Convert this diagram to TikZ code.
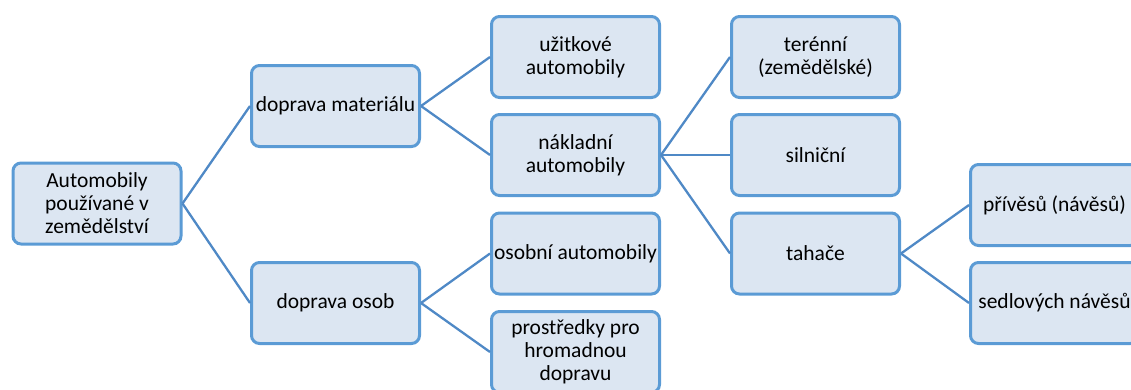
\documentclass[tikz,border=0pt]{standalone}
\usepackage{fontspec}
\setmainfont{Carlito}
\usepackage{xcolor}

\definecolor{boxfill}{HTML}{DCE6F2}
\definecolor{boxline}{HTML}{5B9BD5}
\definecolor{linkline}{HTML}{4F89C6}

\tikzset{
  box/.style={draw=boxline, line width=3pt, fill=boxfill, rounded corners=8pt,
    minimum width=168pt, minimum height=81pt, inner sep=2pt, align=center,
    font=\fontsize{21.5}{23}\selectfont},
  link/.style={draw=linkline, line width=2.3pt}
}

\begin{document}
\begin{tikzpicture}[x=1pt,y=-1pt]
    \useasboundingbox (0,0) rectangle (1131,389);
    \clip (0,0) rectangle (1131,389);

    \node[box] (auto) at (97,203.5) {Automobily\\používané v\\zemědělství};

    \node[box] (mat) at (335.5,106) {doprava materiálu};
    \node[box] (osob) at (335.5,303) {doprava osob};

    \node[box] (uzit) at (575.5,57) {užitkové\\automobily};
    \node[box] (nakl) at (575.5,155) {nákladní\\automobily};
    \node[box] (osobni) at (575.5,253.5) {osobní automobily};
    \node[box] (hrom) at (575.5,352) {prostředky pro\\hromadnou\\dopravu};

    \node[box] (teren) at (815.5,57) {terénní\\(zemědělské)};
    \node[box] (siln) at (815.5,155) {silniční};
    \node[box] (tahac) at (815.5,253.5) {tahače};

    \node[box] (prives) at (1054.5,205) {přívěsů (návěsů)};
    \node[box] (sedl) at (1054.5,303) {sedlových návěsů};

    \draw[link] (auto.east) -- (mat.west);
    \draw[link] (auto.east) -- (osob.west);
    \draw[link] (mat.east) -- (uzit.west);
    \draw[link] (mat.east) -- (nakl.west);
    \draw[link] (osob.east) -- (osobni.west);
    \draw[link] (osob.east) -- (hrom.west);
    \draw[link] (nakl.east) -- (teren.west);
    \draw[link] (nakl.east) -- (siln.west);
    \draw[link] (nakl.east) -- (tahac.west);
    \draw[link] (tahac.east) -- (prives.west);
    \draw[link] (tahac.east) -- (sedl.west);
\end{tikzpicture}
\end{document}
